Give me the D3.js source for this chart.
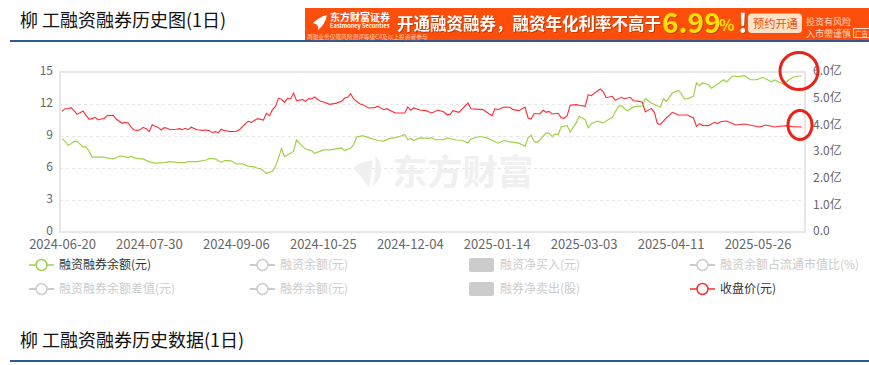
<!DOCTYPE html>
<html>
<head>
<meta charset="utf-8">
<script src="https://cdn.jsdelivr.net/npm/d3@7"></script>
<style>
  html, body { margin: 0; padding: 0; background: #fff; overflow: hidden; }
  svg { display: block; }
  text { font-family: "Noto Sans CJK SC", sans-serif; }
  .axis text { fill: #666; font-size: 12px; }
  .axis .domain { display: none; }
  .grid line { stroke: #e6e6e6; stroke-dasharray: 3 3; }
  .grid text, .grid .domain { display: none; }
</style>
</head>
<body>
<svg id="chart" width="869" height="365"></svg>
<script>
// tick labels
const dateLabels = ['2024-06-20', '2024-07-30', '2024-09-06', '2024-10-25', '2024-12-04', '2025-01-14', '2025-03-03', '2025-04-11', '2025-05-26'];
const priceTicks = [0, 3, 6, 9, 12, 15];
const balanceTicks = [0, 1, 2, 3, 4, 5, 6];
const lastDay = 247;

// 收盘价(元), sampled by trading day
const priceDays = [0,1,2,3,4,5,6,7,8,9,10,11,12,13,14,15,17,18,20,21,22,23,24,25,26,27,28,29,30,31,32,33,34,35,36,38,39,40,41,42,43,44,45,47,48,49,50,51,52,53,54,55,56,58,59,61,62,63,65,67,68,69,70,71,72,73,74,75,76,77,78,80,81,82,83,84,85,86,87,89,91,93,94,95,96,97,99,100,102,104,105,107,108,110,111,114,115,116,117,119,121,123,125,127,128,129,130,132,135,136,139,140,142,143,144,145,147,149,150,152,154,155,156,157,159,160,161,162,163,165,166,167,168,169,171,172,174,175,176,179,180,181,183,184,186,187,189,190,192,193,194,196,197,198,199,201,203,205,208,210,211,212,213,215,217,218,219,221,222,224,227,229,232,234,237,239,241,243,246];
const priceValues = [11.31,11.56,11.56,11.66,11.38,11.03,11.19,11.34,10.94,10.59,10.63,10.75,10.5,10.59,10.63,10.91,10.94,10.59,10.19,10.28,10.22,9.84,9.56,9.53,9.59,9.81,9.69,9.41,10.06,9.91,9.81,9.56,9.78,9.72,9.59,9.63,9.69,9.59,9.72,9.59,9.84,9.69,9.59,9.53,9.56,9.5,9.31,9.41,9.31,9.63,9.5,9.47,9.41,9.44,9.59,10.16,10.38,10.28,10.63,10.5,11.13,10.91,11.47,11.78,12.53,12.44,12.16,12.53,12.47,13.03,12.31,12.41,12.25,12.5,12.47,12.66,12.44,12.25,12.19,11.97,12.06,12.25,12.56,12.63,12.97,12.47,12.03,11.94,11.63,11.66,11.78,11.47,11.56,11.28,11.16,11.16,11.72,11.41,11.63,11.44,11.38,11.16,11.44,11.25,11.0,11.0,11.38,11.22,12.09,11.56,11.5,11.47,11.09,10.91,11.56,11.47,11.72,11.69,11.47,11.38,11.72,10.69,10.59,11.09,11.09,11.41,11.22,11.31,11.06,11.13,10.72,10.66,10.91,11.88,11.94,11.88,11.78,12.88,12.78,13.41,13.13,12.59,12.72,12.34,12.63,12.5,12.63,12.31,12.25,12.16,11.25,11.59,11.22,10.16,10.09,10.69,11.22,10.97,10.97,10.69,9.91,10.16,10.0,9.97,10.28,10.16,10.34,10.41,10.28,10.03,10.13,10.0,9.84,10.03,9.84,9.91,9.97,9.88,9.84];

// 融资融券余额(亿元), sampled by trading day
const balanceDays = [0,1,2,3,4,5,7,8,9,10,12,14,15,17,19,20,22,23,24,26,27,29,31,34,36,39,41,42,45,48,49,51,53,54,56,58,60,62,64,65,66,68,70,71,72,73,74,75,77,78,80,81,83,84,87,89,93,94,96,97,98,100,102,105,107,109,111,113,114,115,116,117,119,122,123,124,127,128,131,133,135,136,139,141,143,145,147,149,152,154,155,156,157,158,161,162,163,164,165,166,168,169,171,172,174,175,176,178,180,182,183,185,186,188,190,193,194,196,199,200,201,203,205,206,207,208,210,211,212,213,215,216,217,220,221,223,225,227,229,231,233,236,237,240,242,244,246];
const balanceValues = [3.5,3.4,3.25,3.31,3.4,3.4,3.19,3.19,3.03,2.81,2.81,2.81,2.78,2.74,2.84,2.85,2.79,2.84,2.78,2.74,2.74,2.63,2.58,2.6,2.64,2.6,2.6,2.64,2.64,2.7,2.76,2.74,2.61,2.68,2.68,2.55,2.56,2.46,2.44,2.39,2.38,2.2,2.28,2.46,2.78,3.13,2.83,2.89,3.03,3.45,3.21,3.11,3.05,2.95,3.08,3.08,3.15,3.05,3.14,3.28,3.56,3.61,3.54,3.43,3.41,3.51,3.54,3.61,3.66,3.46,3.51,3.43,3.53,3.51,3.54,3.46,3.46,3.53,3.45,3.44,3.34,3.49,3.58,3.54,3.44,3.33,3.43,3.38,3.33,3.21,3.53,3.63,3.4,3.35,3.71,3.71,3.58,3.68,3.65,3.95,3.99,3.75,4.09,4.34,4.21,3.91,4.06,4.16,4.09,4.24,4.29,4.71,4.74,4.54,4.69,4.73,5.01,4.84,4.68,4.99,4.9,5.21,5.31,5.18,4.99,5.0,5.09,5.59,5.49,5.59,5.53,5.39,5.46,5.71,5.63,5.85,5.83,5.86,5.71,5.71,5.8,5.63,5.7,5.54,5.73,5.84,5.85];

// legend, two rows
const legendRow1 = ['融资融券余额(元)', '融资余额(元)', '融资净买入(元)', '融资余额占流通市值比(%)'];
const legendRow2 = ['融资融券余额差值(元)', '融券余额(元)', '融券净卖出(股)', '收盘价(元)'];
const legendKinds = ['line', 'line', 'bar', 'line'];

const GREEN = '#a3cf4a';
const RED = '#ff2b36';
const BLUE = '#2f5896';
const LEFT = 60, RIGHT = 805, TOP = 72, BOTTOM = 232;

const svg = d3.select('#chart');

const xScale = d3.scaleLinear().domain([0, lastDay]).range([62, 804.7]);
const labelScale = d3.scalePoint().domain(dateLabels).range([62, 757.5]);
const priceScale = d3.scaleLinear().domain([0, 15]).range([BOTTOM, TOP]);
const balanceScale = d3.scaleLinear().domain([0, 6]).range([BOTTOM, TOP]);

// headings
const heading = (txt, y, lineY) => {
    svg.append('text').attr('x', 20).attr('y', y).attr('font-size', 18).attr('fill', '#111').text(txt);
    svg.append('rect').attr('x', 10).attr('y', lineY).attr('width', 859).attr('height', 2).attr('fill', BLUE);
};
heading('柳 工融资融券历史图(1日)', 27, 40);
heading('柳 工融资融券历史数据(1日)', 347, 360);

// ad banner
const ad = svg.append('g');
ad.append('rect').attr('x', 305).attr('y', 8).attr('width', 564).attr('height', 32).attr('fill', '#fd4e0c');
const adText = (txt, x, y, size, fill, weight) => ad.append('text')
    .attr('x', x).attr('y', y).attr('font-size', size).attr('fill', fill)
    .attr('font-weight', weight || 400).text(txt);
ad.append('path').attr('d', 'M313 23 C317 19 322 16 327 15 C326 21 323 26 318 30 C319 26 317 24 313 23 Z').attr('fill', '#fff');
adText('东方财富证券', 330, 21, 10, '#fff', 700);
adText('Eastmoney Securities', 330, 28, 5.6, '#fff', 700);
adText('两融业务仅限风险测评等级C4及以上投资者参与', 307, 38.5, 5.7, '#ffc9ae');
adText('开通融资融券，融资年化利率不高于', 397, 29.5, 16.5, '#fff', 700).style('filter', 'drop-shadow(1px 1px 0 #c63a00)');
adText('6.99', 662, 33, 28, '#ffe000', 700).style('filter', 'drop-shadow(1px 1px 0 #c63a00)');
adText('%', 719, 31, 16, '#ffe000', 700);
adText('!', 738, 33, 26, '#fff', 700).style('filter', 'drop-shadow(1px 1px 0 #c63a00)');
ad.append('rect').attr('x', 748).attr('y', 13.5).attr('width', 54).attr('height', 19.5).attr('rx', 4).attr('fill', '#ffe3c8');
adText('预约开通', 753, 28, 11.2, '#e2521b');
adText('投资有风险', 806, 24.5, 9, '#ffd6bf');
adText('入市需谨慎', 806, 36.5, 9, '#ffd6bf');
ad.append('rect').attr('x', 853.5).attr('y', 28.5).attr('width', 30).attr('height', 9).attr('fill', 'none').attr('stroke', '#ffd6bf');
adText('广告', 855, 35.5, 6.5, '#ffd6bf');

// grid
svg.append('g').attr('class', 'grid').attr('transform', `translate(${LEFT},0)`)
    .call(d3.axisLeft(priceScale).tickValues([3, 6, 9, 12]).tickSize(-(RIGHT - LEFT)));

// watermark
const mark = svg.append('g').attr('fill', '#f0f0f0');
mark.append('path').attr('d', 'M353 168 C358 163 366 162 372 160 C373 170 370 180 369 188 C364 180 358 173 353 168 Z');
mark.append('path').attr('d', 'M375 155 C383 165 385 175 372 188 C375 178 376 168 375 155 Z');
mark.append('text').attr('x', 392).attr('y', 185).attr('font-size', 35.3).attr('font-weight', 700).text('东方财富');

// frame
svg.append('rect').attr('x', LEFT).attr('y', TOP).attr('width', RIGHT - LEFT).attr('height', BOTTOM - TOP)
    .attr('fill', 'none').attr('stroke', '#e6e6e6').attr('stroke-width', 2);

// axes
svg.append('g').attr('class', 'axis').attr('transform', `translate(${LEFT},-1.5)`)
    .call(d3.axisLeft(priceScale).tickValues(priceTicks).tickSize(0).tickPadding(7));
svg.append('g').attr('class', 'axis').attr('transform', `translate(${RIGHT},-1)`)
    .call(d3.axisRight(balanceScale).tickValues(balanceTicks).tickSize(0).tickPadding(8)
        .tickFormat(d => d === 0 ? '0.0' : d3.format('.1f')(d) + '亿'));
svg.append('g').attr('class', 'axis').attr('transform', `translate(0,${BOTTOM})`)
    .call(d3.axisBottom(labelScale).tickSize(0).tickPadding(8))
    .selectAll('text').style('font-size', '13px');

// series
const priceLine = d3.line().x(i => xScale(priceDays[i])).y(i => priceScale(priceValues[i]));
const balanceLine = d3.line().x(i => xScale(balanceDays[i])).y(i => balanceScale(balanceValues[i]));
svg.append('path').attr('d', priceLine(d3.range(priceDays.length)))
    .attr('fill', 'none').attr('stroke', RED).attr('stroke-width', 1.1);
svg.append('path').attr('d', balanceLine(d3.range(balanceDays.length)))
    .attr('fill', 'none').attr('stroke', GREEN).attr('stroke-width', 1.2);

// hand-drawn circles on the last points
const circles = svg.append('g').attr('fill', 'none').attr('stroke', '#e8231a').attr('stroke-width', 3);
circles.append('ellipse').attr('cx', 799).attr('cy', 71).attr('rx', 19).attr('ry', 18.5);
circles.append('ellipse').attr('cx', 800).attr('cy', 125).attr('rx', 12).attr('ry', 14.5);

// legend
const legendX = d3.scaleOrdinal().domain(d3.range(4)).range([29, 250, 469, 690]);
const legendY = d3.scalePoint().domain([0, 1]).range([265, 289]);
const drawLegendItem = (label, col, row, color, active) => {
    const x = legendX(col), y = legendY(row);
    const g = svg.append('g');
    if (legendKinds[col] === 'bar') {
        g.append('rect').attr('x', x).attr('y', y - 7).attr('width', 25).attr('height', 14).attr('rx', 2).attr('fill', '#ccc');
    } else {
        g.append('line').attr('x1', x).attr('x2', x + 25).attr('y1', y).attr('y2', y)
            .attr('stroke', color).attr('stroke-width', 2).attr('opacity', active ? 0.75 : 1);
        g.append('circle').attr('cx', x + 12.5).attr('cy', y).attr('r', 5.5)
            .attr('fill', '#fff').attr('stroke', color).attr('stroke-width', 1.5);
    }
    g.append('text').attr('x', x + (legendKinds[col] === 'bar' ? 31 : 30)).attr('y', y + 4)
        .attr('font-size', 12).attr('fill', active ? '#333' : '#ccc').text(label);
};
legendRow1.forEach((d, i) => drawLegendItem(d, i, 0, i === 0 ? GREEN : '#ccc', i === 0));
legendRow2.forEach((d, i) => drawLegendItem(d, i, 1, i === 3 ? RED : '#ccc', i === 3));
</script>
</body>
</html>
